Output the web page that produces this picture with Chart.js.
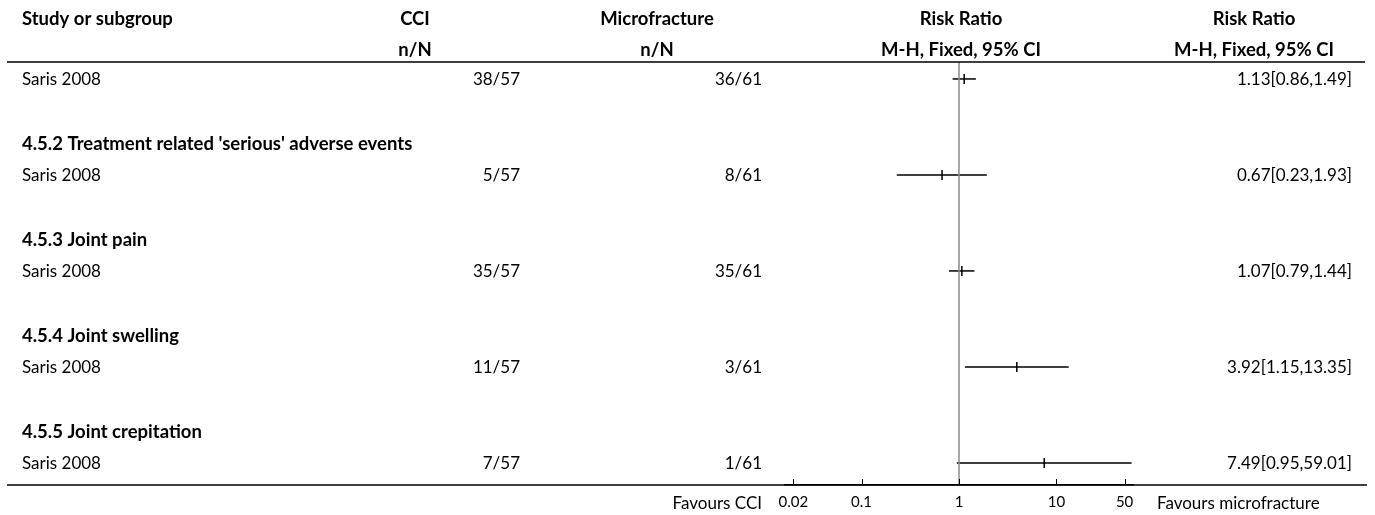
<!DOCTYPE html>
<html>
<head>
<meta charset="utf-8">
<script src="https://cdn.jsdelivr.net/npm/chart.js@4.4.1/dist/chart.umd.min.js"></script>
<style>
  html, body { margin: 0; padding: 0; background: #fff; }
  #wrap { width: 1375px; height: 515px; position: relative; }
</style>
</head>
<body>
<div id="wrap"><canvas id="c" width="1375" height="515"></canvas></div>
<script>
// ---- data ----
const studyNames = ['Saris 2008', 'Saris 2008', 'Saris 2008', 'Saris 2008', 'Saris 2008'];
const studyRows = [0, 3, 6, 9, 12];
const subgroupTitles = ["4.5.2 Treatment related 'serious' adverse events", '4.5.3 Joint pain', '4.5.4 Joint swelling', '4.5.5 Joint crepitation'];
const subgroupRows = [2, 5, 8, 11];
const cciEvents = ['38/57', '5/57', '35/57', '11/57', '7/57'];
const microEvents = ['36/61', '8/61', '35/61', '3/61', '1/61'];
const riskRatio = [1.13, 0.67, 1.07, 3.92, 7.49];
const ciLow = [0.86, 0.23, 0.79, 1.15, 0.95];
const ciHigh = [1.49, 1.93, 1.44, 13.35, 59.01];
const effectLabels = ['1.13[0.86,1.49]', '0.67[0.23,1.93]', '1.07[0.79,1.44]', '3.92[1.15,13.35]', '7.49[0.95,59.01]'];
const tickValues = [0.02, 0.1, 1, 10, 50];
const tickLabels = ['0.02', '0.1', '1', '10', '50'];
const axisMin = 0.0164, axisMax = 61;
const rowMin = -0.53, rowMax = 12.69;

const FONT = 'Lato, "Noto Sans", sans-serif';

const datasets = [];
// reference line at RR = 1
datasets.push({
  type: 'scatter', showLine: true,
  data: [{x: 1, y: rowMin}, {x: 1, y: rowMax}],
  borderColor: '#8c8c8c', borderWidth: 1.5, pointRadius: 0
});
// confidence intervals
for (let i = 0; i < riskRatio.length; i++) {
  datasets.push({
    type: 'scatter', showLine: true,
    data: [{x: ciLow[i], y: studyRows[i]}, {x: ciHigh[i], y: studyRows[i]}],
    borderColor: '#000', borderWidth: 1.5, pointRadius: 0
  });
}
// point estimates
datasets.push({
  type: 'scatter',
  data: riskRatio.map((v, i) => ({x: v, y: studyRows[i]})),
  pointStyle: 'line', rotation: 90, pointRadius: 5,
  borderColor: '#000', backgroundColor: '#000', pointBorderWidth: 1.5
});

const tablePlugin = {
  id: 'table',
  afterDraw(chart) {
    const ctx = chart.ctx;
    const ys = chart.scales.y;
    const Y = r => ys.getPixelForValue(r);
    ctx.save();
    ctx.fillStyle = '#000';
    ctx.textBaseline = 'middle';
    // header
    ctx.font = 'bold 18.5px ' + FONT;
    const h1 = Y(-1.88), h2 = Y(-0.9);
    ctx.textAlign = 'left';
    ctx.fillText('Study or subgroup', 22, h1);
    ctx.textAlign = 'center';
    ctx.fillText('CCI', 415, h1);
    ctx.fillText('n/N', 415, h2);
    ctx.fillText('Microfracture', 657, h1);
    ctx.fillText('n/N', 657, h2);
    ctx.fillText('Risk Ratio', 961, h1);
    ctx.fillText('M-H, Fixed, 95% CI', 961, h2);
    ctx.fillText('Risk Ratio', 1254, h1);
    ctx.fillText('M-H, Fixed, 95% CI', 1254, h2);
    // subgroup titles
    ctx.textAlign = 'left';
    subgroupTitles.forEach((t, i) => ctx.fillText(t, 22, Y(subgroupRows[i]) + 1));
    // study rows
    ctx.font = '17px ' + FONT;
    studyNames.forEach((s, i) => {
      const y = Y(studyRows[i]) + 1;
      ctx.textAlign = 'left';
      ctx.fillText(s, 22, y);
      ctx.textAlign = 'right';
      ctx.fillText(cciEvents[i], 520, y);
      ctx.fillText(microEvents[i], 762, y);
      ctx.fillText(effectLabels[i], 1352, y);
    });
    // footer
    const fy = 504;
    ctx.textAlign = 'right';
    ctx.fillText('Favours CCI', 762, fy);
    ctx.textAlign = 'left';
    ctx.fillText('Favours microfracture', 1157, fy);
    // rules
    ctx.strokeStyle = '#000';
    ctx.lineWidth = 1.5;
    ctx.beginPath();
    ctx.moveTo(7, Y(rowMin)); ctx.lineTo(1365, Y(rowMin));
    ctx.moveTo(7, Y(rowMax)); ctx.lineTo(1367, Y(rowMax));
    ctx.stroke();
    // tick marks pointing up
    const xs = chart.scales.x;
    ctx.lineWidth = 1;
    ctx.beginPath();
    tickValues.forEach(v => {
      const px = Math.round(xs.getPixelForValue(v)) + 0.5;
      ctx.moveTo(px, Y(rowMax)); ctx.lineTo(px, Y(rowMax) - 6);
    });
    ctx.stroke();
    ctx.restore();
  }
};

new Chart(document.getElementById('c'), {
  type: 'scatter',
  data: { datasets },
  options: {
    responsive: false,
    animation: false,
    events: [],
    layout: { padding: { left: 785, right: 242, top: 62, bottom: 0 } },
    plugins: { legend: { display: false }, tooltip: { enabled: false } },
    scales: {
      x: {
        type: 'logarithmic',
        min: axisMin, max: axisMax,
        afterBuildTicks(scale) { scale.ticks = tickValues.map(v => ({ value: v })); },
        afterFit(scale) { scale.height = 30; },
        ticks: {
          autoSkip: false, maxRotation: 0, padding: 8,
          color: '#000',
          font: { family: FONT, size: 15 },
          callback: (v) => tickLabels[tickValues.indexOf(v)] ?? ''
        },
        grid: { display: true, drawOnChartArea: false, drawTicks: false, tickLength: 0 },
        border: { display: true, color: '#000', width: 1.5 }
      },
      y: {
        type: 'linear', display: false, reverse: true,
        min: rowMin, max: rowMax
      }
    }
  },
  plugins: [tablePlugin]
});
</script>
</body>
</html>
